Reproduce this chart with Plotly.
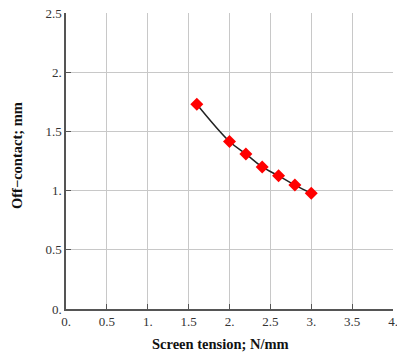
import plotly.graph_objects as go

tension = [1.6, 2.0, 2.2, 2.4, 2.6, 2.8, 3.0]
off_contact = [1.73, 1.415, 1.31, 1.2, 1.125, 1.047, 0.978]

x_ticks = [0, 0.5, 1, 1.5, 2, 2.5, 3, 3.5, 4]
x_labels = ["0.", "0.5", "1.", "1.5", "2.", "2.5", "3.", "3.5", "4."]
y_ticks = [0, 0.5, 1, 1.5, 2, 2.5]
y_labels = ["0.", "0.5", "1.", "1.5", "2.", "2.5"]

x_title = "Screen tension; N/mm"
y_title = "Off\u2212contact; mm"

fig = go.Figure()
fig.add_trace(go.Scatter(
    x=tension, y=off_contact, mode="lines",
    line=dict(color="#222222", width=1.5, shape="spline"),
    showlegend=False, hoverinfo="skip"))
fig.add_trace(go.Scatter(
    x=tension, y=off_contact, mode="markers",
    marker=dict(symbol="diamond", size=10, color="#ff0000"),
    showlegend=False))

font = dict(family="Liberation Serif, Times New Roman, serif", color="#333333", size=13)
title_font = dict(family="Liberation Serif, Times New Roman, serif", color="#111111", size=14.5)

fig.update_layout(
    width=397, height=352,
    margin=dict(l=66, r=4, t=13, b=43, autoexpand=False),
    paper_bgcolor="white", plot_bgcolor="white",
    font=font,
    xaxis=dict(range=[0, 4], tickvals=x_ticks, ticktext=x_labels,
               showgrid=True, gridcolor="#c8c8c8", gridwidth=1,
               showline=True, linecolor="#555555", linewidth=1.5,
               ticks="inside", ticklen=5, tickcolor="#555555",
               zeroline=False, ticklabeloverflow="allow"),
    yaxis=dict(range=[0, 2.5], tickvals=y_ticks, ticktext=y_labels,
               showgrid=True, gridcolor="#c8c8c8", gridwidth=1,
               showline=True, linecolor="#555555", linewidth=1.5,
               ticks="inside", ticklen=5, tickcolor="#555555",
               zeroline=False, ticklabeloverflow="allow"),
    annotations=[
        dict(text="<b>" + x_title + "</b>", xref="paper", yref="paper",
             x=0.471, y=-0.118, xanchor="center", yanchor="middle",
             showarrow=False, font=title_font),
        dict(text="<b>" + y_title + "</b>", xref="paper", yref="paper",
             x=-0.15, y=0.52, xanchor="center", yanchor="middle", textangle=-90,
             showarrow=False, font=title_font),
    ],
)

fig.write_html("out.html", config={"displayModeBar": False},
               post_script="document.body.style.margin='0';document.body.style.overflow='hidden';")
